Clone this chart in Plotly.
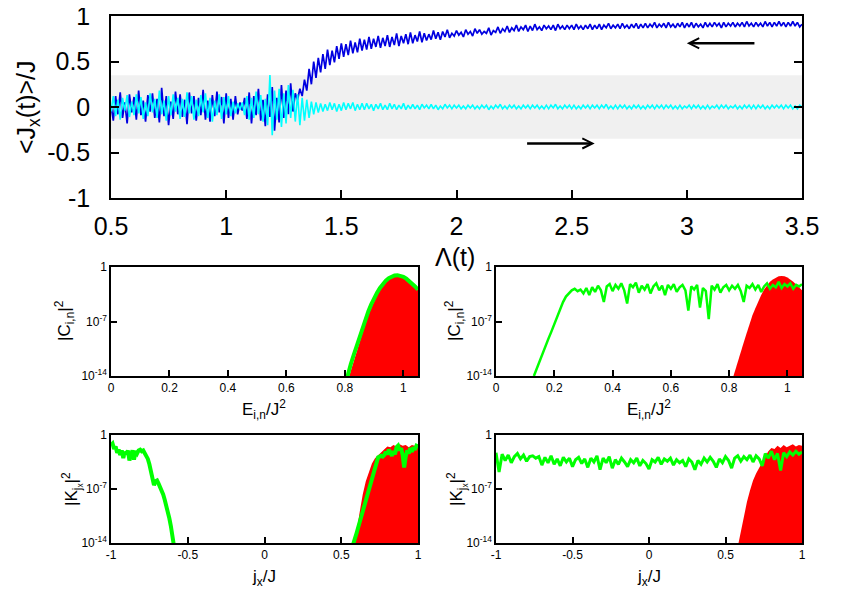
"""Dicke-type sweep: <Jx(t)>/J versus Lambda(t) plus four log-scale distribution panels."""
import numpy as np
import plotly.graph_objects as go

W, H = 854, 598
PAGE_OFFSET = 8   # the page body margin shifts the figure by this many pixels
FONT = "Liberation Sans, Arial, sans-serif"

# ---- top panel: <Jx(t)>/J sampled every 0.01 in Lambda(t) from 0.5 to 3.5 ----
LAMBDA_START, LAMBDA_STOP, LAMBDA_COUNT = 0.5, 3.5, 301

JX_BACKWARD = [
    0.02, -0.15, 0.12, -0.08, 0.16, -0.12, 0.05, -0.18, 0.14, -0.06,
    0.11, -0.14, 0.18, -0.09, 0.07, -0.16, 0.13, -0.05, 0.15, -0.12,
    0.09, -0.17, 0.21, -0.10, 0.12, -0.20, 0.06, -0.13, 0.17, -0.08,
    0.14, -0.11, 0.08, -0.19, 0.16, -0.07, 0.12, -0.15, 0.10, -0.09,
    0.19, -0.14, 0.07, -0.16, 0.13, -0.10, 0.17, -0.06, 0.11, -0.18,
    0.15, -0.12, 0.09, -0.14, 0.12, -0.08, 0.05, -0.04, 0.10, -0.13,
    0.16, -0.18, 0.12, -0.09, 0.20, -0.15, 0.08, -0.21, 0.14, -0.11,
    0.22, -0.26, 0.10, -0.17, 0.24, -0.12, 0.18, -0.08, 0.26, -0.05,
    0.15, 0.08, 0.20, 0.12, 0.30, 0.18, 0.42, 0.25, 0.50, 0.32,
    0.54, 0.38, 0.58, 0.42, 0.63, 0.46, 0.62, 0.49, 0.67, 0.53,
    0.70, 0.55, 0.69, 0.57, 0.73, 0.59, 0.71, 0.60, 0.75, 0.62,
    0.74, 0.63, 0.77, 0.64, 0.75, 0.66, 0.78, 0.65, 0.76, 0.67,
    0.79, 0.66, 0.77, 0.68, 0.81, 0.67, 0.78, 0.70, 0.80, 0.69,
    0.82, 0.70, 0.79, 0.72, 0.83, 0.71, 0.81, 0.73, 0.80, 0.74,
    0.84, 0.75, 0.82, 0.74, 0.83, 0.77, 0.85, 0.76, 0.81, 0.78,
    0.84, 0.79, 0.82, 0.77, 0.85, 0.80, 0.83, 0.78, 0.86, 0.81,
    0.85, 0.80, 0.83, 0.81, 0.87, 0.79, 0.84, 0.82, 0.88, 0.81,
    0.86, 0.83, 0.89, 0.82, 0.87, 0.84, 0.90, 0.83, 0.88, 0.85,
    0.90, 0.83, 0.89, 0.84, 0.91, 0.85, 0.88, 0.84, 0.90, 0.86,
    0.89, 0.85, 0.90, 0.84, 0.91, 0.86, 0.89, 0.85, 0.90, 0.86,
    0.90, 0.85, 0.91, 0.86, 0.89, 0.85, 0.90, 0.86, 0.91, 0.85,
    0.90, 0.86, 0.91, 0.85, 0.90, 0.87, 0.92, 0.86, 0.90, 0.87,
    0.91, 0.86, 0.92, 0.87, 0.90, 0.86, 0.91, 0.87, 0.92, 0.86,
    0.91, 0.87, 0.92, 0.87, 0.91, 0.88, 0.93, 0.87, 0.91, 0.88,
    0.92, 0.87, 0.93, 0.88, 0.91, 0.87, 0.92, 0.88, 0.93, 0.87,
    0.92, 0.88, 0.93, 0.87, 0.92, 0.88, 0.91, 0.87, 0.93, 0.88,
    0.92, 0.88, 0.93, 0.89, 0.92, 0.87, 0.93, 0.88, 0.92, 0.89,
    0.93, 0.88, 0.92, 0.89, 0.93, 0.88, 0.94, 0.89, 0.92, 0.88,
    0.93, 0.89, 0.92, 0.88, 0.94, 0.89, 0.93, 0.88, 0.93, 0.89,
    0.94, 0.89, 0.93, 0.88, 0.93, 0.89, 0.94, 0.89, 0.93, 0.88,
    0.91,
]

JX_FORWARD = [
    -0.05, 0.12, -0.10, 0.08, -0.14, 0.10, -0.04, 0.13, -0.11, 0.06,
    -0.09, 0.14, -0.07, 0.11, -0.13, 0.05, -0.10, 0.15, -0.06, 0.09,
    -0.12, 0.18, -0.08, 0.07, -0.15, 0.12, -0.09, 0.14, -0.05, 0.10,
    -0.13, 0.09, -0.11, 0.16, -0.07, 0.12, -0.14, 0.08, -0.10, 0.13,
    -0.06, 0.15, -0.12, 0.10, -0.16, 0.07, -0.09, 0.14, -0.13, 0.11,
    -0.08, 0.12, -0.10, 0.06, -0.07, 0.04, -0.03, 0.05, -0.09, 0.12,
    -0.14, 0.10, -0.12, 0.17, -0.08, 0.13, -0.16, 0.09, -0.20, 0.35,
    -0.31, 0.18, -0.14, 0.20, -0.22, 0.15, -0.18, 0.24, -0.12, 0.19,
    -0.16, 0.14, -0.20, 0.10, -0.15, 0.08, -0.12, 0.06, -0.08, 0.05,
    -0.06, 0.04, -0.05, 0.03, -0.04, 0.05, -0.03, 0.04, -0.05, 0.03,
    -0.04, 0.05, -0.03, 0.04, -0.02, 0.05, -0.04, 0.03, -0.03, 0.04,
    -0.03, 0.04, -0.02, 0.03, -0.04, 0.03, -0.02, 0.04, -0.03, 0.02,
    -0.03, 0.04, -0.02, 0.03, -0.03, 0.02, -0.02, 0.04, -0.03, 0.02,
    -0.02, 0.03, -0.02, 0.02, -0.03, 0.03, -0.01, 0.02, -0.02, 0.03,
    -0.02, 0.02, -0.03, 0.01, -0.02, 0.03, -0.01, 0.02, -0.02, 0.02,
    -0.01, 0.02, -0.02, 0.01, -0.02, 0.02, -0.01, 0.02, -0.02, 0.01,
    -0.02, 0.02, -0.01, 0.02, -0.03, 0.01, -0.02, 0.02, -0.01, 0.03,
    -0.02, 0.01, -0.02, 0.02, -0.01, 0.02, -0.02, 0.01, -0.02, 0.02,
    -0.01, 0.02, -0.02, 0.02, -0.01, 0.02, -0.02, 0.01, -0.02, 0.02,
    -0.02, 0.02, -0.01, 0.03, -0.02, 0.01, -0.02, 0.02, -0.01, 0.02,
    -0.02, 0.02, -0.02, 0.01, -0.02, 0.02, -0.01, 0.02, -0.02, 0.02,
    -0.01, 0.02, -0.02, 0.02, -0.01, 0.03, -0.02, 0.01, -0.02, 0.02,
    -0.02, 0.02, -0.01, 0.02, -0.02, 0.01, -0.02, 0.02, -0.01, 0.02,
    -0.02, 0.01, -0.02, 0.02, -0.01, 0.02, -0.02, 0.02, -0.01, 0.02,
    -0.02, 0.02, -0.01, 0.02, -0.02, 0.01, -0.02, 0.02, -0.02, 0.01,
    -0.01, 0.02, -0.02, 0.02, -0.01, 0.02, -0.02, 0.01, -0.02, 0.02,
    -0.02, 0.01, -0.01, 0.02, -0.02, 0.02, -0.01, 0.02, -0.02, 0.01,
    -0.01, 0.02, -0.02, 0.01, -0.02, 0.02, -0.01, 0.02, -0.02, 0.02,
    -0.02, 0.02, -0.01, 0.02, -0.02, 0.01, -0.02, 0.02, -0.01, 0.02,
    -0.01, 0.02, -0.02, 0.02, -0.01, 0.02, -0.02, 0.01, -0.02, 0.02,
    0.00,
]

BAND_HALF = 0.35            # grey shaded strip |<Jx>/J| < 0.35
ARROW_BACK = (3.3, 3.0, 0.7)   # (tail, head, level)
ARROW_FWD = (2.3, 2.6, -0.4)

# ---- panels: values are log10 of the squared amplitudes ----
# initial-state distribution (red) used in both upper panels
C_RED_E = [0.81, 0.82, 0.83, 0.84, 0.85, 0.86, 0.87, 0.88, 0.89, 0.90, 0.91, 0.92, 0.93,
           0.94, 0.95, 0.96, 0.97, 0.98, 0.99, 1.00, 1.01, 1.02, 1.03, 1.04, 1.05]
C_RED_LOG = [-14.6, -13.3, -12.1, -10.9, -9.7, -8.5, -7.3, -6.2, -5.3, -4.4, -3.6, -2.9, -2.4,
             -1.9, -1.6, -1.35, -1.2, -1.15, -1.2, -1.35, -1.6, -1.9, -2.25, -2.6, -3.0]

C_LEFT_E = [0.805, 0.81, 0.82, 0.83, 0.84, 0.85, 0.86, 0.87, 0.88, 0.89, 0.90, 0.91, 0.92,
            0.93, 0.94, 0.95, 0.96, 0.97, 0.98, 0.99, 1.00, 1.01, 1.02, 1.03, 1.04, 1.05]
C_LEFT_LOG = [-14.6, -13.8, -12.5, -11.3, -10.1, -8.9, -7.8, -6.7, -5.7, -4.8, -4.0, -3.3, -2.7,
              -2.2, -1.75, -1.45, -1.25, -1.1, -1.05, -1.1, -1.25, -1.5, -1.8, -2.15, -2.5, -2.9]

C_RIGHT_E_START, C_RIGHT_E_STEP = 0.13, 0.01
C_RIGHT_LOG = [
    -14.0, -13.0, -12.0, -11.1, -10.1, -9.2, -8.3, -7.3, -6.3, -5.3,
    -4.5, -3.8, -3.4, -3.0, -2.8, -3.1, -2.9, -3.4, -2.7, -3.6,
    -2.6, -3.2, -2.4, -3.0, -4.5, -2.5, -2.2, -3.1, -2.3, -2.8,
    -2.1, -3.0, -4.7, -2.2, -2.6, -2.0, -3.3, -2.4, -2.9, -2.2,
    -3.4, -2.5, -2.1, -3.0, -2.4, -3.6, -2.3, -2.8, -2.2, -3.2,
    -2.6, -2.3, -3.0, -5.6, -2.5, -2.9, -2.3, -5.2, -2.7, -3.1,
    -6.7, -2.4, -2.9, -2.2, -3.3, -2.6, -2.3, -3.0, -2.4, -2.8,
    -2.3, -3.1, -4.5, -2.4, -2.7, -2.2, -2.9, -2.3, -3.2, -2.5,
    -2.1, -2.8, -2.3, -2.6, -1.9, -2.7, -2.2, -2.5, -2.1, -2.8,
    -2.3, -2.5, -2.2,
]

K_RED_LEFT_J = [0.58, 0.60, 0.62, 0.64, 0.66, 0.68, 0.70, 0.72, 0.74, 0.76, 0.78,
                0.80, 0.82, 0.84, 0.86, 0.88, 0.90, 0.92, 0.94, 0.96, 0.98, 1.00]
K_RED_LEFT_LOG = [-14.5, -12.5, -10.0, -7.7, -6.0, -4.7, -3.7, -3.0, -2.6, -2.2, -1.8,
                  -1.5, -1.6, -1.3, -1.5, -1.2, -1.4, -1.3, -1.6, -1.3, -1.4, -1.2]

K_LEFT_J = [-1.00, -0.99, -0.98, -0.97, -0.96, -0.95, -0.94, -0.93, -0.92, -0.91, -0.90,
            -0.89, -0.88, -0.87, -0.86, -0.85, -0.84, -0.83, -0.82, -0.81, -0.80, -0.79,
            -0.78, -0.77, -0.76, -0.75, -0.74, -0.73, -0.72, -0.71, -0.70, -0.69, -0.68,
            -0.67, -0.66, -0.65, -0.64, -0.63, -0.62, -0.61, -0.60, -0.59, -0.585,
            None,
            0.57, 0.58, 0.60, 0.62, 0.64, 0.66, 0.68, 0.70, 0.72, 0.73, 0.74, 0.75,
            0.76, 0.77, 0.78, 0.79, 0.80, 0.81, 0.82, 0.83, 0.84, 0.85, 0.86, 0.87,
            0.88, 0.89, 0.90, 0.91, 0.92, 0.93, 0.94, 0.95, 0.96, 0.97, 0.98, 0.99, 1.00]
K_LEFT_LOG = [-1.3, -1.1, -1.8, -1.5, -2.3, -1.9, -2.6, -2.0, -3.0, -2.2, -2.5,
              -2.0, -3.3, -2.4, -2.0, -3.2, -2.1, -2.4, -2.0, -1.9, -2.1, -2.0,
              -2.4, -2.8, -3.1, -3.8, -4.6, -5.6, -6.5, -6.0, -5.9, -6.3, -6.7,
              -7.1, -7.7, -8.4, -9.1, -9.9, -10.8, -11.8, -12.9, -14.2, -15.0,
              None,
              -15.0, -14.0, -12.7, -11.3, -9.8, -8.3, -6.9, -5.4, -4.0, -3.4, -2.9, -2.8,
              -2.7, -2.8, -2.6, -2.2, -2.5, -1.9, -2.4, -2.7, -2.1, -2.5, -1.6, -1.4,
              -2.0, -1.7, -2.6, -4.2, -2.8, -2.0, -2.4, -1.7, -2.2, -1.6, -1.9, -1.4, -1.5]

K_RED_RIGHT_J = [0.58, 0.60, 0.62, 0.64, 0.66, 0.68, 0.70, 0.72, 0.74, 0.76, 0.78,
                 0.80, 0.82, 0.84, 0.86, 0.88, 0.90, 0.92, 0.94, 0.96, 0.98, 1.00]
K_RED_RIGHT_LOG = [-14.5, -12.4, -10.4, -8.7, -7.2, -5.9, -5.0, -4.2, -3.4, -2.8, -2.1,
                   -1.7, -1.8, -1.4, -1.7, -1.3, -1.6, -1.4, -1.2, -1.5, -1.3, -1.4]

K_RIGHT_J_START, K_RIGHT_J_STEP = -1.0, 0.02
K_RIGHT_LOG = [
    -2.3, -4.8, -2.5, -3.3, -2.6, -3.6, -2.8, -2.4, -3.1, -2.6,
    -3.4, -2.8, -2.7, -3.0, -2.8, -3.9, -2.9, -3.6, -2.7, -3.8,
    -3.1, -4.0, -2.9, -3.5, -3.0, -4.1, -3.2, -2.9, -3.7, -3.1,
    -4.2, -3.0, -3.5, -2.7, -4.5, -3.0, -3.6, -2.8, -4.3, -3.2,
    -3.8, -3.0, -3.5, -4.1, -3.2, -3.6, -3.0, -4.0, -3.3, -3.7,
    -4.4, -3.2, -3.5, -2.9, -3.8, -3.1, -3.4, -3.0, -3.9, -3.2,
    -3.6, -3.3, -4.1, -3.1, -3.5, -4.5, -3.3, -3.8, -3.0, -3.5,
    -2.9, -3.4, -4.2, -3.1, -3.6, -2.8, -3.3, -4.3, -3.0, -2.7,
    -3.4, -2.8, -3.2, -2.6, -3.5, -2.7, -3.1, -4.0, -2.4, -3.0,
    -2.1, -3.2, -2.4, -4.6, -2.3, -2.8, -2.2, -2.6, -2.1, -2.5,
    -2.2,
]

LOG_FLOOR = -16.0


def px_x(px):
    return (px - PAGE_OFFSET) / W


def px_y(py):
    return 1 - (py - PAGE_OFFSET) / H


def pow10(values):
    return [None if v is None else 10.0 ** v for v in values]


def red_fill(xs, logs, xa, ya):
    # closed polygon down to the axis floor so the area reads as filled
    return go.Scatter(
        x=list(xs) + [xs[-1], xs[0]],
        y=pow10(list(logs) + [LOG_FLOOR, LOG_FLOOR]),
        mode="lines", fill="toself", fillcolor="#ff0000",
        line={"width": 0, "color": "#ff0000"},
        xaxis=xa, yaxis=ya, showlegend=False, hoverinfo="skip",
    )


def green_line(xs, logs, xa, ya, width):
    return go.Scatter(
        x=xs, y=pow10(logs), mode="lines",
        line={"color": "#00ff00", "width": width},
        connectgaps=False, xaxis=xa, yaxis=ya, showlegend=False,
    )


lam = np.linspace(LAMBDA_START, LAMBDA_STOP, LAMBDA_COUNT)
c_right_e = [round(C_RIGHT_E_START + i * C_RIGHT_E_STEP, 3) for i in range(len(C_RIGHT_LOG))]
k_right_j = [round(K_RIGHT_J_START + i * K_RIGHT_J_STEP, 3) for i in range(len(K_RIGHT_LOG))]

fig = go.Figure()
fig.add_trace(go.Scatter(x=lam, y=JX_BACKWARD, mode="lines",
                         line={"color": "#0000e0", "width": 1.7}, showlegend=False))
fig.add_trace(go.Scatter(x=lam, y=JX_FORWARD, mode="lines",
                         line={"color": "#00ffff", "width": 1.6}, showlegend=False))

fig.add_trace(red_fill(C_RED_E, C_RED_LOG, "x2", "y2"))
fig.add_trace(green_line(C_LEFT_E, C_LEFT_LOG, "x2", "y2", 4))
fig.add_trace(red_fill(C_RED_E, C_RED_LOG, "x3", "y3"))
fig.add_trace(green_line(c_right_e, C_RIGHT_LOG, "x3", "y3", 2.5))
fig.add_trace(red_fill(K_RED_LEFT_J, K_RED_LEFT_LOG, "x4", "y4"))
fig.add_trace(green_line(K_LEFT_J, K_LEFT_LOG, "x4", "y4", 4))
fig.add_trace(red_fill(K_RED_RIGHT_J, K_RED_RIGHT_LOG, "x5", "y5"))
fig.add_trace(green_line(k_right_j, K_RIGHT_LOG, "x5", "y5", 3))

frame = dict(showline=True, mirror=True, linecolor="black", linewidth=1.5,
             showgrid=False, zeroline=False, ticks="inside", tickcolor="black",
             automargin=False, ticklabeloverflow="allow")

big_tick = {"family": FONT, "size": 25, "color": "black"}
small_tick = {"family": FONT, "size": 12, "color": "black"}

layout_axes = {
    "xaxis": dict(frame, domain=[px_x(111), px_x(802)], anchor="y", range=[0.5, 3.5],
                  tickvals=[0.5, 1, 1.5, 2, 2.5, 3, 3.5],
                  ticktext=["0.5", "1", "1.5", "2", "2.5", "3", "3.5"],
                  ticklen=8, tickwidth=1.5, tickfont=big_tick, ticklabelstandoff=5),
    "yaxis": dict(frame, domain=[px_y(198), px_y(16)], anchor="x", range=[-1, 1],
                  tickvals=[-1, -0.5, 0, 0.5, 1], ticktext=["-1", "-0.5", "0", "0.5", "1"],
                  mirror="ticks", ticklen=8, tickwidth=1.5, tickfont=big_tick,
                  ticklabelstandoff=14),
}

log_y = dict(frame, type="log", range=[-14, 0], tickvals=[1e-14, 1e-7, 1],
             ticktext=["10<sup>-14</sup>", "10<sup>-7</sup>", "1"],
             ticklen=6, tickwidth=1.5, tickfont=small_tick)
e_x = dict(frame, range=[0, 1.05], tickvals=[0, 0.2, 0.4, 0.6, 0.8, 1],
           ticktext=["0", "0.2", "0.4", "0.6", "0.8", "1"],
           ticklen=6, tickwidth=1.5, tickfont=small_tick)
j_x = dict(frame, range=[-1, 1], tickvals=[-1, -0.5, 0, 0.5, 1],
           ticktext=["-1", "-0.5", "0", "0.5", "1"],
           ticklen=6, tickwidth=1.5, tickfont=small_tick)

panels = [
    (2, e_x, (111, 418), (267, 376)),
    (3, e_x, (496, 802), (267, 376)),
    (4, j_x, (111, 418), (435, 543)),
    (5, j_x, (496, 802), (435, 543)),
]
for n, xbase, (left, right), (top, bottom) in panels:
    layout_axes[f"xaxis{n}"] = dict(xbase, domain=[px_x(left), px_x(right)], anchor=f"y{n}")
    layout_axes[f"yaxis{n}"] = dict(log_y, domain=[px_y(bottom), px_y(top)], anchor=f"x{n}")

fig.update_layout(**layout_axes)

fig.add_shape(type="rect", xref="x", yref="y", x0=LAMBDA_START, x1=LAMBDA_STOP,
              y0=-BAND_HALF, y1=BAND_HALF, fillcolor="#f0f0f0",
              line={"width": 0}, layer="below")

for tail, head, level in (ARROW_BACK, ARROW_FWD):
    fig.add_annotation(x=head, y=level, ax=tail, ay=level, xref="x", yref="y",
                       axref="x", ayref="y", text="", showarrow=True,
                       arrowhead=5, arrowsize=0.8, arrowwidth=2.5, arrowcolor="black")


def label(text, px, py, size, angle=0):
    fig.add_annotation(text=text, x=px_x(px), y=px_y(py), xref="paper", yref="paper",
                       xanchor="center", yanchor="middle",
                       showarrow=False, textangle=angle,
                       font={"family": FONT, "size": size, "color": "black"})


label("&lt;J<sub>x</sub>(t)&gt;/J", 28, 107, 25, -90)
label("Λ(t)", 455, 257, 25)
label("E<sub>i,n</sub>/J<sup>2</sup>", 264, 409, 17)
label("E<sub>i,n</sub>/J<sup>2</sup>", 649, 409, 17)
label("j<sub>x</sub>/J", 264, 578, 17)
label("j<sub>x</sub>/J", 649, 578, 17)
label("|C<sub>i,n</sub>|<sup>2</sup>", 64, 321, 17, -90)
label("|C<sub>i,n</sub>|<sup>2</sup>", 454, 321, 17, -90)
label("|K<sub>j<sub>x</sub></sub>|<sup>2</sup>", 72, 489, 17, -90)
label("|K<sub>j<sub>x</sub></sub>|<sup>2</sup>", 457, 489, 17, -90)

fig.update_layout(
    width=W, height=H,
    margin={"l": 0, "r": 0, "t": 0, "b": 0, "pad": 0, "autoexpand": False},
    paper_bgcolor="white", plot_bgcolor="white",
    font={"family": FONT, "color": "black"},
    showlegend=False,
)

fig.write_html("out.html")
